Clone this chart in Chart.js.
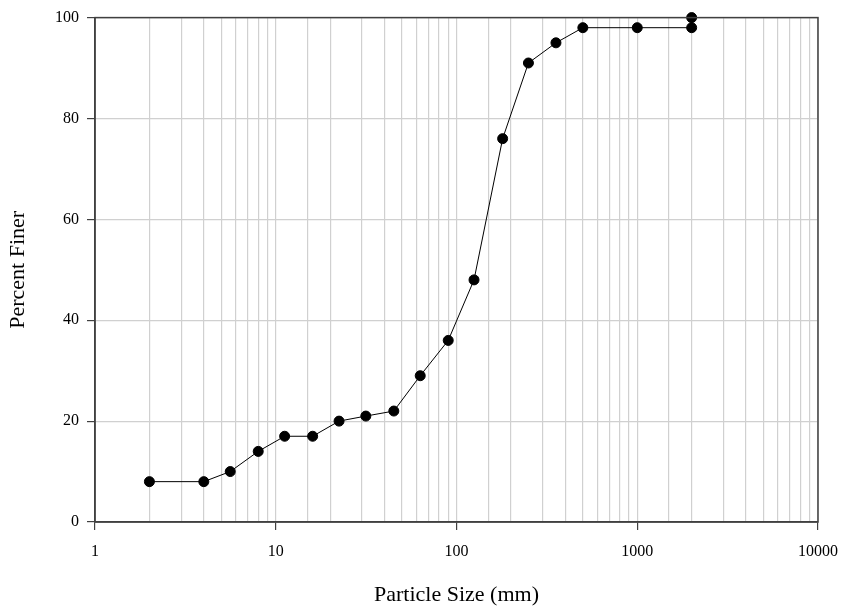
<!DOCTYPE html>
<html>
<head>
<meta charset="utf-8">
<script src="https://cdn.jsdelivr.net/npm/chart.js@4"></script>
<style>
  html, body { margin: 0; padding: 0; background: #fff; overflow: hidden; }
  #wrap { width: 843px; height: 609px; }
</style>
</head>
<body>
<div id="wrap"><canvas id="gradChart"></canvas></div>
<script>
// sieve sizes (mm) and percent passing
const sizes = [2, 4, 5.6, 8, 11.2, 16, 22.4, 31.5, 45, 63, 90, 125, 180, 250, 355, 500, 1000, 2000, 2000];
const percentFiner = [8, 8, 10, 14, 17, 17, 20, 21, 22, 29, 36, 48, 76, 91, 95, 98, 98, 98, 100];
const xTickLabels = [1, 10, 100, 1000, 10000];
const yTicks = [0, 20, 40, 60, 80, 100];

const serif = "'Liberation Serif', 'DejaVu Serif', serif";

// outer frame (top + right border)
const frame = {
    id: 'frame',
    afterDraw(chart) {
        const a = chart.chartArea, c = chart.ctx;
        c.save();
        c.strokeStyle = '#404040';
        c.lineWidth = 1.5;
        c.strokeRect(a.left, a.top, a.right - a.left, a.bottom - a.top);
        c.restore();
    }
};

var ctx = document.getElementById('gradChart');
var gradChart = new Chart(ctx, {
    type: 'line',
    data: {
        datasets: [{
            label: 'Percent Finer',
            data: sizes.map((s, i) => ({x: s, y: percentFiner[i]})),
            borderColor: '#000',
            backgroundColor: '#000',
            borderWidth: 1,
            pointRadius: 5,
            pointHoverRadius: 5,
            tension: 0,
            clip: false
        }]
    },
    options: {
        responsive: true,
        maintainAspectRatio: false,
        animation: false,
        layout: { padding: { left: 0, top: 16, right: 25, bottom: 0 } },
        plugins: {
            legend: { display: false },
            tooltip: { enabled: false }
        },
        scales: {
            x: {
                type: 'logarithmic',
                min: xTickLabels[0],
                max: xTickLabels[xTickLabels.length - 1],
                afterFit: (s) => { s.height = 87; s.paddingRight = 0; s.paddingLeft = 0; },
                border: { color: '#404040', width: 1.5 },
                grid: {
                    color: '#d0d0d0',
                    lineWidth: 1.2,
                    tickLength: 8,
                    tickColor: (c) => xTickLabels.includes(c.tick.value) ? '#404040' : 'rgba(0,0,0,0)'
                },
                ticks: {
                    autoSkip: false,
                    maxRotation: 0,
                    padding: 12,
                    color: '#000',
                    font: { family: serif, size: 16 },
                    callback: (v) => xTickLabels.includes(v) ? String(v) : ''
                },
                title: {
                    display: true,
                    text: 'Particle Size (mm)',
                    color: '#000',
                    font: { family: serif, size: 22 },
                    padding: { top: 0, bottom: 1 }
                }
            },
            y: {
                min: yTicks[0],
                max: yTicks[yTicks.length - 1],
                afterFit: (s) => { s.width = 95; },
                border: { color: '#404040', width: 1.5 },
                grid: {
                    color: '#d0d0d0',
                    lineWidth: 1.2,
                    tickLength: 8,
                    tickColor: '#404040'
                },
                ticks: {
                    stepSize: 20,
                    padding: 8,
                    color: '#000',
                    font: { family: serif, size: 16 }
                },
                title: {
                    display: true,
                    text: 'Percent Finer',
                    color: '#000',
                    font: { family: serif, size: 22 },
                    padding: { top: 5, bottom: 0 }
                }
            }
        }
    },
    plugins: [frame]
});
</script>
</body>
</html>
